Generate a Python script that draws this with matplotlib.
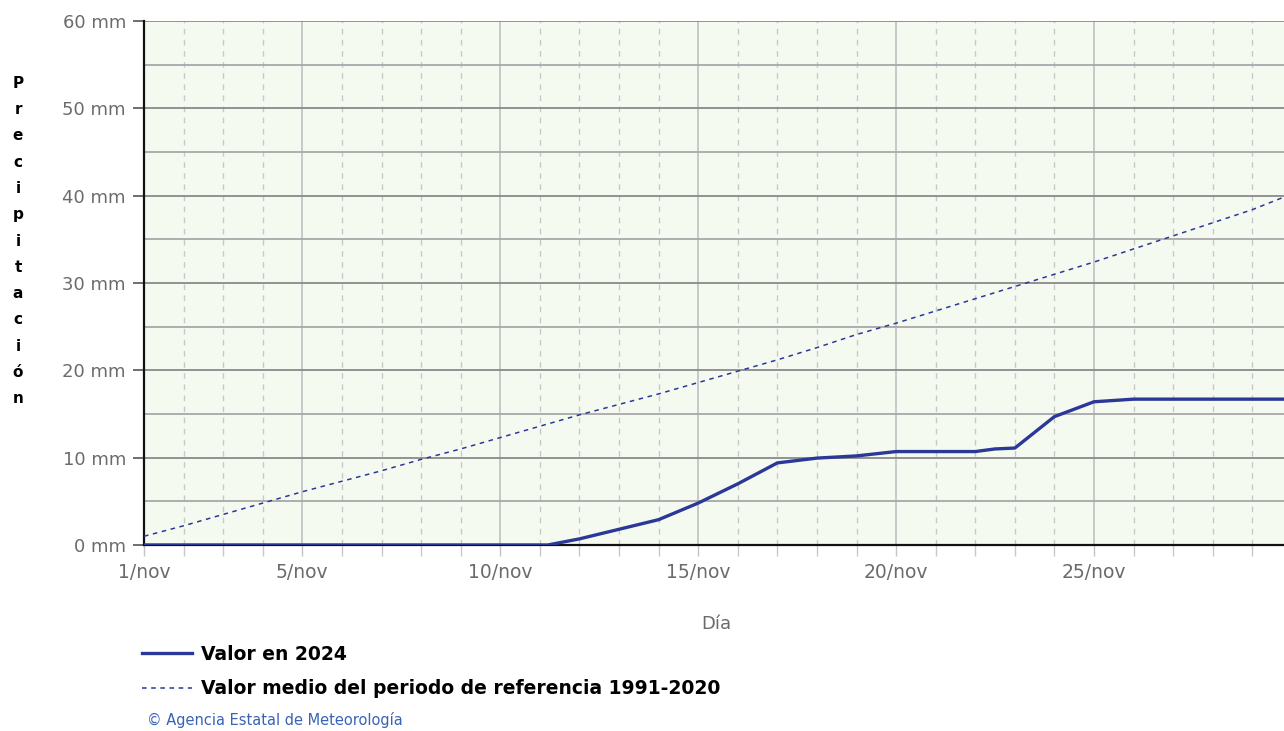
import numpy as np
import matplotlib
matplotlib.use('Agg')
import matplotlib.pyplot as plt
from matplotlib.ticker import FixedLocator, FuncFormatter

# Data
days_2024 = [1, 2, 3, 4, 5, 6, 7, 8, 9, 10, 11, 11.2, 12, 13, 14, 15, 16, 17, 18,
             19, 20, 21, 22, 22.5, 23, 24, 25, 26, 27, 28, 29, 30]
precip_2024 = [0, 0, 0, 0, 0, 0, 0, 0, 0, 0, 0, 0, 0.7, 1.8, 2.9, 4.8, 7.0, 9.4, 9.95,
               10.2, 10.7, 10.7, 10.7, 11.0, 11.1, 14.7, 16.4, 16.7, 16.7, 16.7, 16.7, 16.7]

days_ref = list(range(1, 31))
precip_ref = [1.0, 2.2, 3.5, 4.8, 6.1, 7.3, 8.5, 9.8, 11.0, 12.3, 13.6, 14.9, 16.1, 17.3,
              18.6, 19.9, 21.2, 22.6, 24.1, 25.4, 26.8, 28.2, 29.6, 31.0, 32.4, 33.9,
              35.4, 36.9, 38.4, 40.2]

major_days = [1, 5, 10, 15, 20, 25]
minor_days = [d for d in range(1, 31) if d not in major_days]
y_major = [0, 10, 20, 30, 40, 50, 60]
y_minor = [5, 15, 25, 35, 45, 55]

line_color = '#2b3897'
tick_color = '#6b6b6b'

plt.rcParams['font.family'] = ['DejaVu Sans', 'Noto Sans CJK SC']

fig = plt.figure(figsize=(12.84, 7.31), dpi=100)
ax = fig.add_axes([144 / 1284, 1 - 545 / 731, 1 - 144 / 1284, (545 - 21) / 731])
ax.set_facecolor('#f5faf1')

# Grid
for d in major_days[1:]:
    ax.axvline(d, color='#c4c4c4', lw=1.3, zorder=1)
for d in minor_days:
    ax.axvline(d, color='#c8c8c8', lw=1.0, ls=(0, (4, 4)), zorder=1)
for v in y_major[1:]:
    ax.axhline(v, color='#8a8a8a', lw=1.3, zorder=1)
for v in y_minor:
    ax.axhline(v, color='#a8a8a8', lw=1.3, zorder=1)

ref_line, = ax.plot(days_ref, precip_ref, color=line_color, lw=1.1,
                    ls=(0, (3, 3)), zorder=3,
                    label='Valor medio del periodo de referencia 1991-2020')
val_line, = ax.plot(days_2024, precip_2024, color=line_color, lw=2.4, zorder=4,
                    label='Valor en 2024')

ax.set_xlim(1, 29.8)
ax.set_ylim(0, 60)

ax.xaxis.set_major_locator(FixedLocator(major_days))
ax.xaxis.set_minor_locator(FixedLocator(minor_days))
ax.xaxis.set_major_formatter(FuncFormatter(lambda x, p: f'{int(x)}/nov'))
ax.yaxis.set_major_locator(FixedLocator(y_major))
ax.yaxis.set_major_formatter(FuncFormatter(lambda v, p: f'{int(v)} mm'))

ax.tick_params(axis='x', which='major', length=8, width=1, color='#c4c4c4',
               labelsize=13.5, labelcolor=tick_color, pad=5)
ax.tick_params(axis='x', which='minor', length=8, width=1, color='#c8c8c8')
ax.tick_params(axis='y', which='major', length=8, width=1.2, color='#555555',
               labelsize=13, labelcolor=tick_color, pad=5)

for side in ['top', 'right']:
    ax.spines[side].set_visible(False)
ax.spines['left'].set_color('#111111')
ax.spines['left'].set_linewidth(1.6)
ax.spines['bottom'].set_color('#111111')
ax.spines['bottom'].set_linewidth(1.6)

# Vertical stacked y label
fig.text(18 / 1284, 1 - 241 / 731, '\n'.join('Precipitación'), ha='center', va='center',
         fontsize=11, fontweight='bold', color='black', linespacing=1.94)

fig.text(716 / 1284, 1 - 624 / 731, 'Día', ha='center', va='center',
         fontsize=13, color=tick_color)

leg = fig.legend(handles=[val_line, ref_line], loc='upper left',
                 bbox_to_anchor=(134 / 1284, 1 - 637 / 731), frameon=False,
                 prop={'size': 13.5, 'weight': 'bold'}, handlelength=2.7,
                 handletextpad=0.45, labelspacing=0.85, borderaxespad=0)

fig.text(147 / 1284, 1 - 720 / 731, '© Agencia Estatal de Meteorología', ha='left',
         va='center', fontsize=10.5, color='#3a63b8')

fig.savefig('out.png', dpi=100)
